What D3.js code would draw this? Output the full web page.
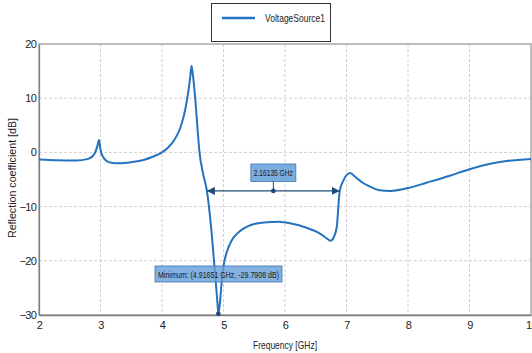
<!DOCTYPE html>
<html><head><meta charset="utf-8">
<script src="https://cdn.jsdelivr.net/npm/d3@7"></script>
<style>
body{margin:0;background:#fff;}
text{font-family:"Liberation Sans Narrow","Arial Narrow","Liberation Sans",Arial,sans-serif;}
</style></head>
<body><svg id="c" width="532" height="353"></svg>
<script>
const freq = [2.0,2.3,2.6,2.8,2.9,2.95,2.976,3.0,3.05,3.1,3.2,3.3,3.5,3.7,3.85,4.0,4.1,4.2,4.3,4.38,4.43,4.46,4.48,4.5,4.54,4.58,4.61,4.67,4.73,4.8,4.86,4.9,4.9165,4.94,4.97,5.0,5.05,5.13,5.27,5.4,5.54,5.7,5.89,6.1,6.35,6.57,6.67,6.74,6.79,6.84,6.89,6.95,7.0,7.06,7.15,7.25,7.38,7.54,7.71,8.03,8.3,8.68,9.0,9.3,9.6,10.0];
const refl = [-1.3,-1.45,-1.5,-1.2,-0.3,1.2,2.3,0.5,-1.0,-1.6,-1.95,-2.0,-1.8,-1.4,-0.8,0.0,0.9,2.3,4.6,8.0,11.4,14.0,16.0,14.5,10.0,4.0,0.0,-4.0,-7.1,-14.0,-22.0,-27.5,-29.79,-28.0,-24.0,-21.0,-18.5,-16.3,-14.5,-13.6,-13.1,-12.9,-12.8,-13.1,-13.9,-15.0,-15.8,-16.3,-15.7,-13.9,-7.1,-5.2,-4.2,-3.8,-4.6,-5.5,-6.3,-7.0,-7.1,-6.5,-5.6,-4.3,-3.1,-2.2,-1.6,-1.2];
const xTicks = [2,3,4,5,6,7,8,9,10];
const yTicks = [-30,-20,-10,0,10,20];
const seriesName = "VoltageSource1";
const xLabel = "Frequency [GHz]";
const yLabel = "Reflection coefficient [dB]";
const bwStart = 4.73, bwWidth = 2.16135, bwLevel = -7.1;
const bwText = "2.16135 GHz";
const minF = 4.91651, minDb = -29.7908;
const minText = "Minimum: (4.91651 GHz, -29.7908 dB)";

const svg = d3.select("#c");
const L=39, R=531, T=44, B=315;
const x = d3.scaleLinear().domain([2,10]).range([L,R]);
const y = d3.scaleLinear().domain([-30,20]).range([B,T]);
const blue = "#2472c0", navy = "#1d4a78";
const narrow = sel => sel.attr("lengthAdjust","spacingAndGlyphs");

// grid
svg.append("g").selectAll("line").data(xTicks.slice(1,-1)).join("line")
  .attr("x1",d=>x(d)).attr("x2",d=>x(d)).attr("y1",T).attr("y2",B)
  .attr("stroke","#d0d0d0").attr("stroke-dasharray","3,2").attr("stroke-width",1);
svg.append("g").selectAll("line").data(yTicks.slice(1,-1)).join("line")
  .attr("y1",d=>y(d)).attr("y2",d=>y(d)).attr("x1",L).attr("x2",R)
  .attr("stroke","#d0d0d0").attr("stroke-dasharray","3,2").attr("stroke-width",1);

// frame
svg.append("rect").attr("x",L).attr("y",T).attr("width",R-L).attr("height",B-T)
  .attr("fill","none").attr("stroke","#9a9a9a").attr("stroke-width",1.3);

// axes
const xa = svg.append("g").attr("transform",`translate(0,${B})`)
  .call(d3.axisBottom(x).tickValues(xTicks).tickSize(0).tickPadding(6).tickFormat(d3.format("d")));
xa.select(".domain").attr("stroke","#808080").attr("stroke-width",1.3);
xa.selectAll("text").attr("font-size",11).attr("fill","#222").attr("letter-spacing",-0.6);
const ya = svg.append("g").attr("transform",`translate(${L},0)`)
  .call(d3.axisLeft(y).tickValues(yTicks).tickSize(0).tickPadding(3).tickFormat(d3.format("d")));
ya.select(".domain").attr("stroke","#808080").attr("stroke-width",1.3);
ya.selectAll("text").attr("font-size",11).attr("fill","#222").attr("letter-spacing",-0.8);

// labels
svg.append("text").attr("x",(L+R)/2).attr("y",349).attr("text-anchor","middle")
  .attr("font-size",11).attr("fill","#222").attr("textLength",64).call(narrow).text(xLabel);
svg.append("text").attr("transform",`translate(16,178) rotate(-90)`).attr("text-anchor","middle")
  .attr("font-size",11).attr("fill","#222").attr("textLength",120).call(narrow).text(yLabel);

// curve
const pts = freq.map((f,i)=>[f,refl[i]]);
svg.append("path").datum(pts)
  .attr("d",d3.line().x(d=>x(d[0])).y(d=>y(d[1])).curve(d3.curveMonotoneX))
  .attr("fill","none").attr("stroke",blue).attr("stroke-width",2);

// legend
svg.append("rect").attr("x",211.5).attr("y",3.5).attr("width",119).attr("height",38)
  .attr("fill","#fff").attr("stroke","#333").attr("stroke-width",1);
svg.append("line").attr("x1",222).attr("x2",255).attr("y1",18).attr("y2",18)
  .attr("stroke",blue).attr("stroke-width",2.5);
svg.append("text").attr("x",265).attr("y",22).attr("font-size",11).attr("fill","#222")
  .attr("textLength",60).call(narrow).text(seriesName);

// bandwidth annotation
const defs = svg.append("defs");
defs.append("marker").attr("id","ah").attr("viewBox","0 0 10 10").attr("refX",10).attr("refY",5)
  .attr("markerWidth",8).attr("markerHeight",8).attr("markerUnits","userSpaceOnUse").attr("orient","auto-start-reverse")
  .append("path").attr("d","M0,0L10,5L0,10z").attr("fill",navy);
const bx1 = x(bwStart), bx2 = x(bwStart+bwWidth), by = y(bwLevel), bmid=(bx1+bx2)/2;
svg.append("line").attr("x1",bx1).attr("x2",bx2).attr("y1",by).attr("y2",by)
  .attr("stroke",navy).attr("stroke-width",1.3)
  .attr("marker-start","url(#ah)").attr("marker-end","url(#ah)");
svg.append("line").attr("x1",bmid).attr("x2",bmid).attr("y1",181).attr("y2",by).attr("stroke",navy).attr("stroke-width",1);
svg.append("circle").attr("cx",bmid).attr("cy",by).attr("r",2.3).attr("fill",navy);
svg.append("rect").attr("x",bmid-22.5).attr("y",164).attr("width",45).attr("height",17.5)
  .attr("fill","rgba(100,158,218,0.85)").attr("stroke","#3f76b0").attr("stroke-width",0.8);
svg.append("text").attr("x",bmid).attr("y",176).attr("text-anchor","middle")
  .attr("font-size",9).attr("fill","#1a1a1a").attr("textLength",39).call(narrow).text(bwText);

// minimum annotation
svg.append("rect").attr("x",155).attr("y",266).attr("width",127).attr("height",16)
  .attr("fill","rgba(100,158,218,0.8)").attr("stroke","#3f76b0").attr("stroke-width",0.8);
svg.append("text").attr("x",158).attr("y",277.5)
  .attr("font-size",9).attr("fill","#1a1a1a").attr("textLength",121).call(narrow).text(minText);
svg.append("circle").attr("cx",x(minF)).attr("cy",y(minDb)).attr("r",2.3).attr("fill",navy);
</script></body></html>
